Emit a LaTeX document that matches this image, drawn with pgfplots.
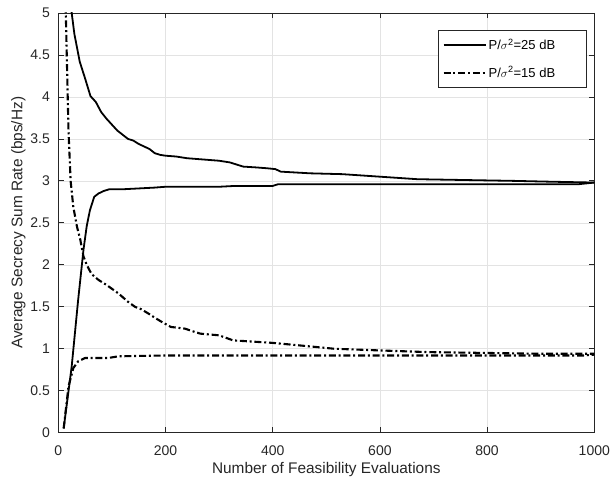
\documentclass[border=0pt]{standalone}
\usepackage{pgfplots}
\pgfplotsset{compat=1.18}
\usepackage{fontspec}
\setmainfont{Liberation Sans}
\definecolor{axgray}{HTML}{262626}
\definecolor{gridgray}{HTML}{E3E3E3}
\tikzset{dd/.style={line width=2.1bp, dash pattern=on 7bp off 2.8bp on 2bp off 2.8bp}}
\begin{document}
\begin{tikzpicture}
\begin{axis}[
  name=ax,
  scale only axis,
  width=536bp, height=419.7bp,
  xmin=0, xmax=1000, ymin=0, ymax=5,
  xtick={0,200,400,600,800,1000},
  ytick={0,0.5,1,1.5,2,2.5,3,3.5,4,4.5,5},
  tick align=inside,
  major tick length=5.4bp,
  grid=major,
  major grid style={gridgray, line width=0.6bp},
  axis line style={axgray, line width=0.8bp},
  every tick/.style={axgray, line width=0.8bp},
  tick label style={font=\fontsize{14bp}{16bp}\selectfont, text=axgray},
  /pgf/number format/assume math mode=true,
  /pgf/number format/1000 sep={},
  xticklabel style={anchor=base, yshift=-22.3bp},
  yticklabel style={anchor=east, inner xsep=0pt, xshift=-8.3bp},
  label style={font=\fontsize{15.4bp}{18bp}\selectfont, text=axgray},
  xlabel={Number of Feasibility Evaluations},
  ylabel={Average Secrecy Sum Rate (bps/Hz)},
  xlabel style={at={(axis description cs:0.5,-0.0961)}, anchor=base},
  ylabel style={at={(axis description cs:-0.0743,0.5)}, anchor=center},
  legend style={at={(axis description cs:1,1)}, anchor=north east, xshift=-7.3bp, yshift=-17bp,
    draw=axgray, line width=0.6bp, fill=white, font=\fontsize{13bp}{15bp}\selectfont,
    inner xsep=4bp, inner ysep=7bp, row sep=11bp},
  legend cell align=left,
]
% 25 dB achieved (solid, increasing)
\addplot[black, line width=1.8bp, line join=round,
  legend image code/.code={\draw[black, line width=1.8bp] (0bp,0bp) -- (42bp,0bp);}] coordinates {
(10,0.05) (25,0.79) (37,1.58) (47,2.18) (53,2.46) (59,2.65) (67,2.81) (75,2.85)
(85,2.88) (95,2.90) (120,2.90) (150,2.91) (180,2.92) (200,2.93) (250,2.93)
(300,2.93) (330,2.94) (400,2.94) (410,2.96) (600,2.96) (900,2.96) (970,2.96) (1000,2.98)
};
\addlegendentry{\makebox[92bp][l]{P/$\sigma$\textsuperscript{2}=25 dB}}
% 15 dB achieved (dash-dot, increasing)
\addplot[black, dd, line join=round,
  legend image code/.code={\draw[black, line width=2.1bp, dash pattern=on 7bp off 2.8bp on 2bp off 2.8bp] (0bp,0bp) -- (42bp,0bp);}] coordinates {
(10,0.05) (19,0.55) (28,0.77) (37,0.85) (50,0.89) (93,0.89) (112,0.91) (200,0.92)
(980,0.92) (1000,0.93)
};
\addlegendentry{\makebox[92bp][l]{P/$\sigma$\textsuperscript{2}=15 dB}}
% 25 dB bound (solid, decreasing)
\addplot[black, line width=1.8bp, line join=round, forget plot] coordinates {
(10,6.6) (20,5.3) (25,5.0) (30,4.75) (40,4.42) (50,4.22) (60,4.01) (70,3.94) (80,3.82)
(90,3.74) (100,3.67) (110,3.60) (120,3.55) (130,3.50) (140,3.48) (150,3.44) (160,3.41)
(170,3.38) (180,3.33) (190,3.31) (200,3.30) (220,3.29) (240,3.27) (260,3.26) (280,3.25)
(300,3.24) (320,3.22) (345,3.17) (370,3.16) (390,3.15) (405,3.14) (415,3.11) (470,3.09)
(530,3.08) (600,3.05) (670,3.02) (760,3.01) (850,3.00) (920,2.99) (1000,2.98)
};
% 15 dB bound (dash-dot, decreasing)
\addplot[black, dd, line join=round, forget plot] coordinates {
(10,7.0) (14,5.0) (19,3.6) (23,3.0) (28,2.69) (35,2.45) (41,2.30) (47,2.10) (53,2.00)
(62,1.89) (75,1.82) (90,1.76) (112,1.66) (130,1.56) (143,1.50) (155,1.47) (168,1.42)
(180,1.37) (193,1.32) (210,1.26) (236,1.24) (250,1.21) (265,1.18) (300,1.16) (326,1.10)
(400,1.07) (450,1.04) (515,1.00) (600,0.98) (690,0.96) (800,0.95) (900,0.94) (1000,0.94)
};
\end{axis}
\pgfresetboundingbox
\path ([shift={(-58.3bp,-45.3bp)}]ax.south west) rectangle ([shift={(15.7bp,13bp)}]ax.north east);
\end{tikzpicture}
\end{document}
